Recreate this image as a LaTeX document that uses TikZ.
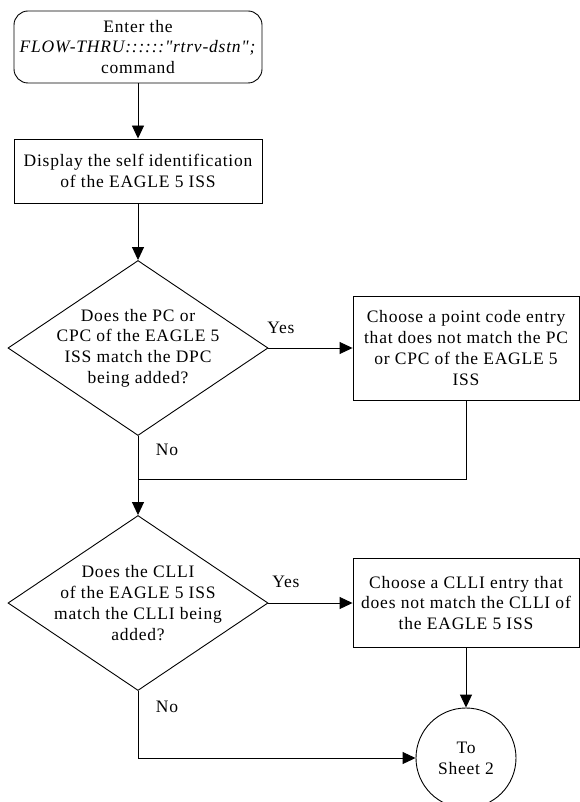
\documentclass[tikz,border=0pt]{standalone}
\usepackage{fontspec}
\newfontfamily\diagfont{Liberation Serif}[LetterSpace=4.5]
\usetikzlibrary{arrows.meta,shapes.geometric}
\begin{document}
\begin{tikzpicture}[x=1pt,y=-1pt,
  line width=0.9pt,
  font=\diagfont\fontsize{17.5}{20.7}\selectfont,
  >={Triangle[length=13pt,width=12pt]},
  box/.style={draw, rectangle, inner sep=0pt, align=center},
  decision/.style={draw, diamond, inner sep=0pt, minimum width=260pt, minimum height=175pt},
  dtext/.style={align=center, inner sep=0pt},
  lbl/.style={inner sep=0pt},
  conn/.style={->}
]
\useasboundingbox (0,0) rectangle (580,802);

\node[box, rounded corners=14pt, minimum width=248pt, minimum height=72pt] (start) at (138,47)
  {Enter the\\ \textit{FLOW-THRU::::::"rtrv-dstn";}\\ command};
\node[box, minimum width=248pt, minimum height=64pt] (disp) at (138,171)
  {Display the self identification\\ of the EAGLE 5 ISS};

\node[decision] (d1) at (138,348) {};
\node[dtext] (d1t) at (d1.center) {Does the PC or\\ CPC of the EAGLE 5\\ ISS match the DPC\\ being added?};

\node[box, minimum width=226pt, minimum height=104pt] (pc) at (466,348)
  {Choose a point code entry\\ that does not match the PC\\ or CPC of the EAGLE 5\\ ISS};

\node[decision] (d2) at (138,603) {};
\node[dtext] (d2t) at (d2.center) {Does the CLLI\\ of the EAGLE 5 ISS\\ match the CLLI being\\ added?};

\node[box, minimum width=226pt, minimum height=89pt] (clli) at (466,603)
  {Choose a CLLI entry that\\ does not match the CLLI of\\ the EAGLE 5 ISS};

\node[draw, circle, minimum size=100pt, inner sep=0pt, align=center] (sheet) at (466,758)
  {To\\ Sheet 2};

\coordinate (join) at (138,479);

\draw[conn] (start) -- (disp);
\draw[conn] (disp) -- (d1.north);
\draw[conn] (d1.east) -- (pc.west);
\draw (pc.south) |- (join);
\draw[conn] (d1.south) -- (d2.north);
\draw[conn] (d2.east) -- (clli.west);
\draw[conn] (clli.south) -- (sheet.north);
\draw[conn] (d2.south) |- (sheet.west);

\node[lbl] (yes1) at (281,328) {Yes};
\node[lbl] (no1) at (167,450) {No};
\node[lbl] (yes2) at (286,582) {Yes};
\node[lbl] (no2) at (167,707) {No};
\end{tikzpicture}
\end{document}
